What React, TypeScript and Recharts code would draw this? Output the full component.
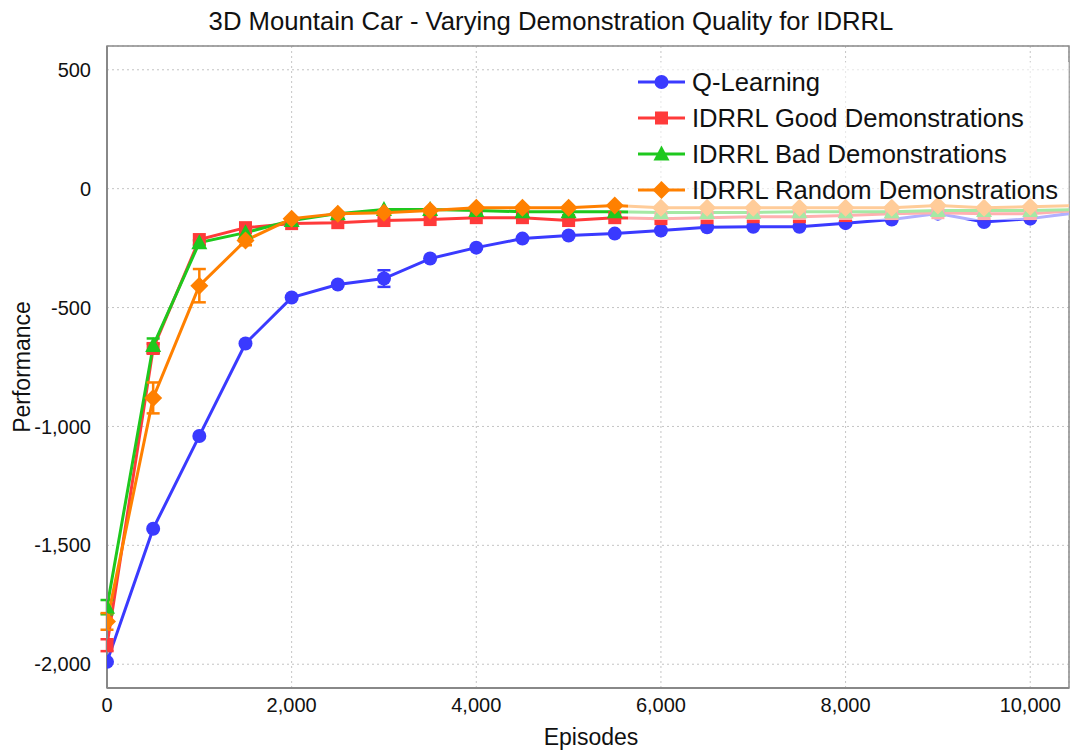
import React from "react";
import {
  LineChart,
  Line,
  XAxis,
  YAxis,
  CartesianGrid,
  ErrorBar,
  Legend,
  ReferenceArea,
} from "recharts";

const FONT = '"Liberation Sans", Arial, sans-serif';

const episodes = [
  0, 500, 1000, 1500, 2000, 2500, 3000, 3500, 4000, 4500, 5000, 5500, 6000,
  6500, 7000, 7500, 8000, 8500, 9000, 9500, 10000, 10500,
];

const qLearning = [
  -1990, -1430, -1040, -651, -458, -403, -378, -294, -248, -210, -197, -189,
  -176, -162, -160, -160, -145, -130, -105, -140, -126, -101,
];
const qLearningErr = [0, 0, 0, 0, 0, 0, 35, 0, 0, 0, 0, 0, 0, 0, 0, 0, 0, 0, 0, 0, 0, 0];

const goodDemo = [
  -1920, -672, -214, -164, -147, -143, -134, -130, -122, -122, -134, -122,
  -126, -122, -118, -118, -113, -105, -101, -105, -105, -92,
];
const goodDemoErr = [25, 20, 0, 0, 0, 0, 0, 0, 0, 0, 0, 0, 0, 0, 0, 0, 0, 0, 0, 0, 0, 0];

const badDemo = [
  -1760, -660, -227, -185, -134, -105, -88, -88, -92, -97, -97, -97, -100,
  -100, -100, -97, -97, -97, -92, -92, -92, -88,
];
const badDemoErr = [30, 30, 10, 0, 0, 0, 0, 0, 0, 0, 0, 0, 0, 0, 0, 0, 0, 0, 0, 0, 0, 0];

const randomDemo = [
  -1820, -880, -408, -218, -126, -105, -101, -92, -80, -80, -80, -71, -80,
  -80, -80, -80, -80, -80, -71, -80, -76, -71,
];
const randomDemoErr = [35, 65, 70, 20, 0, 0, 0, 0, 0, 0, 0, 0, 0, 0, 0, 0, 0, 0, 0, 0, 0, 0];

const xTicks = [0, 2000, 4000, 6000, 8000, 10000];
const yTicks = [-2000, -1500, -1000, -500, 0, 500];

type Shape = "circle" | "square" | "triangle" | "diamond";

const series: {
  key: string;
  name: string;
  color: string;
  shape: Shape;
  values: number[];
  errors: number[];
}[] = [
  { key: "q", name: "Q-Learning", color: "#3a3aff", shape: "circle", values: qLearning, errors: qLearningErr },
  { key: "good", name: "IDRRL Good Demonstrations", color: "#ff3a3a", shape: "square", values: goodDemo, errors: goodDemoErr },
  { key: "bad", name: "IDRRL Bad Demonstrations", color: "#1ec81e", shape: "triangle", values: badDemo, errors: badDemoErr },
  { key: "random", name: "IDRRL Random Demonstrations", color: "#ff8000", shape: "diamond", values: randomDemo, errors: randomDemoErr },
];

const data = episodes.map((ep, i) => {
  const row: Record<string, number> = { episode: ep };
  series.forEach((s) => {
    row[s.key] = s.values[i];
    row[s.key + "Err"] = s.errors[i];
  });
  return row;
});

function Marker({ cx, cy, shape, color }: { cx?: number; cy?: number; shape: Shape; color: string }) {
  if (cx == null || cy == null) return null;
  switch (shape) {
    case "circle":
      return <circle cx={cx} cy={cy} r={7} fill={color} />;
    case "square":
      return <rect x={cx - 6.5} y={cy - 6.5} width={13} height={13} fill={color} />;
    case "triangle":
      return (
        <polygon
          points={`${cx},${cy - 8.5} ${cx + 8},${cy + 6.5} ${cx - 8},${cy + 6.5}`}
          fill={color}
        />
      );
    default:
      return (
        <polygon
          points={`${cx},${cy - 9} ${cx + 9},${cy} ${cx},${cy + 9} ${cx - 9},${cy}`}
          fill={color}
        />
      );
  }
}

function LegendBox() {
  return (
    <div style={{ padding: "2px 0 0 10px", fontFamily: FONT, fontSize: 25.6, color: "#111" }}>
      {series.map((s) => (
        <div key={s.key} style={{ display: "flex", alignItems: "center", height: 36 }}>
          <svg width={47} height={20} style={{ display: "block" }}>
            <line x1={0} y1={10} x2={47} y2={10} stroke={s.color} strokeWidth={3} />
            <Marker cx={23.5} cy={10} shape={s.shape} color={s.color} />
          </svg>
          <span style={{ marginLeft: 7, lineHeight: "36px", whiteSpace: "nowrap" }}>{s.name}</span>
        </div>
      ))}
    </div>
  );
}

const fmt = (v: number) => v.toLocaleString("en-US");

export default function App() {
  return (
    <div style={{ position: "relative", width: 1073, height: 753, fontFamily: FONT, background: "#fff" }}>
      <style>{"body{margin:0}"}</style>
      <LineChart
        width={1073}
        height={753}
        data={data}
        margin={{ top: 46, right: 4, left: 0, bottom: 0 }}
      >
        <CartesianGrid stroke="#c4c4c4" strokeDasharray="2 3" />
        <XAxis
          dataKey="episode"
          type="number"
          domain={[0, 10420]}
          allowDataOverflow
          ticks={xTicks}
          tickFormatter={fmt}
          height={65}
          tickSize={0}
          tickMargin={10}
          tick={{ fontSize: 20, fill: "#111" }}
          axisLine={{ stroke: "#888", strokeWidth: 2 }}
        />
        <YAxis
          type="number"
          domain={[-2100, 600]}
          allowDataOverflow
          ticks={yTicks}
          tickFormatter={fmt}
          width={107}
          tickSize={0}
          tickMargin={16}
          tick={{ fontSize: 20, fill: "#111" }}
          axisLine={{ stroke: "#888", strokeWidth: 2 }}
        />
        <ReferenceArea
          x1={0}
          x2={10420}
          y1={-2100}
          y2={600}
          fill="none"
          stroke="#8a8a8a"
          strokeWidth={1.5}
          ifOverflow="visible"
        />
        {series.map((s) => (
          <Line
            key={s.key}
            dataKey={s.key}
            name={s.name}
            type="linear"
            stroke={s.color}
            strokeWidth={3}
            isAnimationActive={false}
            activeDot={false}
            dot={(p: any) => (
              <Marker key={`${s.key}-${p.index}`} cx={p.cx} cy={p.cy} shape={s.shape} color={s.color} />
            )}
          >
            <ErrorBar dataKey={s.key + "Err"} width={6.5} strokeWidth={2.5} stroke={s.color} direction="y" />
          </Line>
        ))}
        <Legend
          layout="vertical"
          align="center"
          verticalAlign="middle"
          wrapperStyle={{
            left: 628,
            top: 62,
            width: 441,
            height: 158,
            background: "rgba(255,255,255,0.6)",
          }}
          content={() => <LegendBox />}
        />
      </LineChart>
      <svg
        width={1073}
        height={753}
        style={{ position: "absolute", left: 0, top: 0, pointerEvents: "none" }}
      >
        <text x={551} y={30} textAnchor="middle" fontSize={25.7} fill="#111">
          3D Mountain Car - Varying Demonstration Quality for IDRRL
        </text>
        <text x={591} y={745} textAnchor="middle" fontSize={23} fill="#111">
          Episodes
        </text>
        <text transform="translate(30, 367) rotate(-90)" textAnchor="middle" fontSize={23} fill="#111">
          Performance
        </text>
      </svg>
    </div>
  );
}
